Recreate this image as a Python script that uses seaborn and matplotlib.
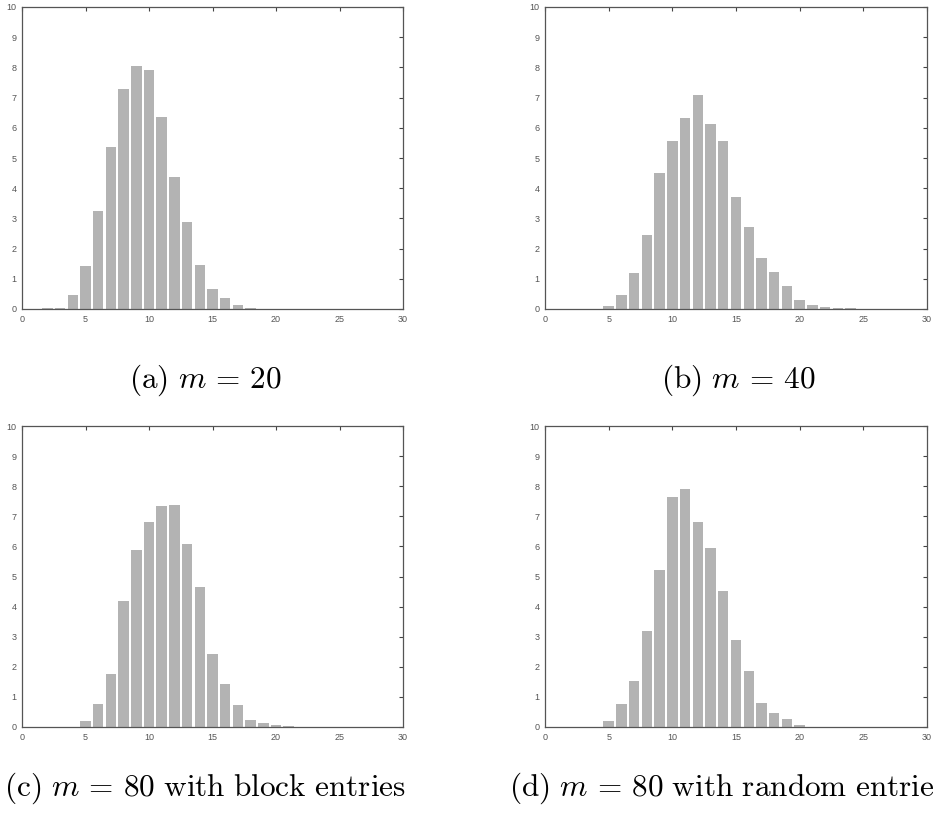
import matplotlib
matplotlib.use("Agg")
import matplotlib.pyplot as plt
import seaborn as sns

# bin centres and heights for each panel
bins_a = list(range(2, 19))
vals_a = [0.03, 0.03, 0.45, 1.42, 3.25, 5.36, 7.28, 8.03, 7.92, 6.35,
          4.36, 2.87, 1.47, 0.66, 0.35, 0.13, 0.04]

bins_b = list(range(5, 25))
vals_b = [0.11, 0.47, 1.18, 2.44, 4.51, 5.56, 6.32, 7.10, 6.14, 5.56,
          3.72, 2.73, 1.68, 1.24, 0.75, 0.31, 0.13, 0.07, 0.04, 0.03]

bins_c = list(range(5, 22))
vals_c = [0.21, 0.78, 1.76, 4.17, 5.89, 6.80, 7.35, 7.37, 6.09, 4.66,
          2.44, 1.42, 0.72, 0.24, 0.14, 0.05, 0.04]

bins_d = list(range(5, 21))
vals_d = [0.21, 0.78, 1.53, 3.20, 5.21, 7.65, 7.90, 6.82, 5.94, 4.51,
          2.90, 1.85, 0.80, 0.45, 0.25, 0.08]

captions = [r"$\mathrm{(a)}\ m\,=\,20$",
            r"$\mathrm{(b)}\ m\,=\,40$",
            r"$\mathrm{(c)}\ m\,=\,80\ \mathrm{with\ block\ entries}$",
            r"$\mathrm{(d)}\ m\,=\,80\ \mathrm{with\ random\ entries}$"]

x_ticks = [0, 5, 10, 15, 20, 25, 30]
y_ticks = list(range(0, 11))

sns.set_style("white")
plt.rcParams["mathtext.fontset"] = "cm"
plt.rcParams["font.family"] = ["Liberation Sans", "DejaVu Sans"]

fig = plt.figure(figsize=(9.33, 8.15), dpi=100)

W, H = 933, 815
# axes boxes in pixels: left, top, right, bottom
boxes = [(22, 7, 403, 309), (545, 7, 927, 309),
         (22, 426, 403, 727), (545, 426, 927, 727)]
# caption centres in pixels (the last one runs off the right edge, as in the original)
caption_pos = [(205, 380), (738, 380), (205, 788), (728, 788)]

data = [(bins_a, vals_a), (bins_b, vals_b), (bins_c, vals_c), (bins_d, vals_d)]

for (bins, vals), (l, t, r, b), cap, (cx, cy) in zip(data, boxes, captions, caption_pos):
    ax = fig.add_axes([l / W, 1 - b / H, (r - l) / W, (b - t) / H])
    sns.barplot(x=bins, y=vals, native_scale=True, color="#b3b3b3",
                saturation=1, width=0.82, errorbar=None, linewidth=0, ax=ax)
    ax.set_xlim(0, 30)
    ax.set_ylim(0, 10)
    ax.set_xticks(x_ticks)
    ax.set_yticks(y_ticks)
    ax.set_xlabel("")
    ax.set_ylabel("")
    ax.tick_params(direction="in", length=3, width=0.8, color="#444444",
                   labelsize=6.5, labelcolor="#555555", top=True, right=True,
                   pad=4)
    for s in ax.spines.values():
        s.set_color("#555555")
        s.set_linewidth(0.9)
    fig.text(cx / W, 1 - cy / H, cap, ha="center", va="center",
             fontsize=22.5, color="black")

fig.savefig("out.png", dpi=100)
